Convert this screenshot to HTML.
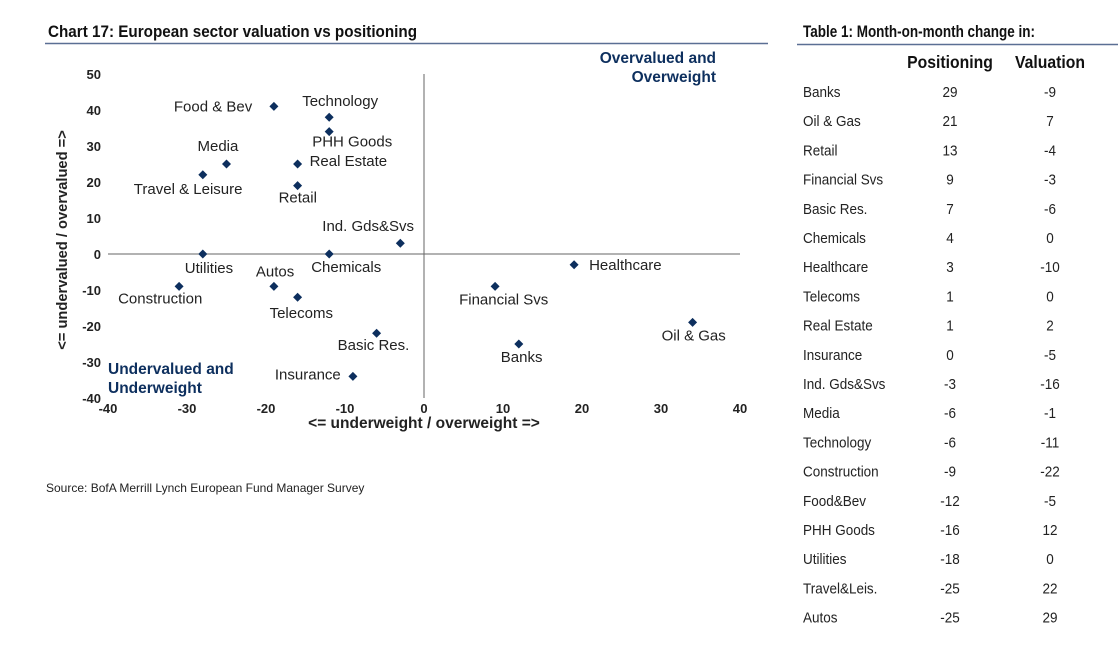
<!DOCTYPE html>
<html><head><meta charset="utf-8"><style>
body{margin:0;background:#fff;}
svg{display:block;font-family:"Liberation Sans",Arial,sans-serif;}
.n{font-family:"Liberation Sans Narrow","Liberation Sans",sans-serif;}
</style></head><body>
<svg id="c" width="1118" height="661" viewBox="0 0 1118 661">
<text class="n" x="48" y="37" font-size="17" font-weight="bold" fill="#111" textLength="369" lengthAdjust="spacingAndGlyphs">Chart 17: European sector valuation vs positioning</text>
<line x1="45" y1="43.5" x2="768" y2="43.5" stroke="#5b6f94" stroke-width="1.5"/>
<text class="n" x="803" y="37" font-size="17" font-weight="bold" fill="#111" textLength="232" lengthAdjust="spacingAndGlyphs">Table 1: Month-on-month change in:</text>
<line x1="797" y1="44.5" x2="1118" y2="44.5" stroke="#5b6f94" stroke-width="1.5"/>
<text x="716" y="63" font-size="15.5" font-weight="bold" fill="#0d2f5e" text-anchor="end">Overvalued and</text>
<text x="716" y="82" font-size="15.5" font-weight="bold" fill="#0d2f5e" text-anchor="end">Overweight</text>
<text x="108" y="374" font-size="15.5" font-weight="bold" fill="#0d2f5e">Undervalued and</text>
<text x="108" y="393" font-size="15.5" font-weight="bold" fill="#0d2f5e">Underweight</text>
<text x="424" y="428" font-size="15.5" font-weight="bold" fill="#222" text-anchor="middle">&lt;= underweight / overweight =&gt;</text>
<text transform="translate(67,240) rotate(-90)" font-size="14.7" font-weight="bold" fill="#222" text-anchor="middle">&lt;= undervalued / overvalued =&gt;</text>
<text class="n" x="46" y="492" font-size="12" fill="#222">Source: BofA Merrill Lynch European Fund Manager Survey</text>
<g id="plot"></g>
<g id="tbl" transform="scale(0.9,1)"></g>
</svg>
<script>
const sectors=["Food & Bev","Technology","PHH Goods","Media","Real Estate","Travel & Leisure","Retail","Ind. Gds&Svs","Utilities","Chemicals","Healthcare","Construction","Autos","Financial Svs","Telecoms","Oil & Gas","Basic Res.","Banks","Insurance"];
const positioning=[-19,-12,-12,-25,-16,-28,-16,-3,-28,-12,19,-31,-19,9,-16,34,-6,12,-9];
const valuation=[41,38,34,25,25,22,19,3,0,0,-3,-9,-9,-9,-12,-19,-22,-25,-34];
const xTicks=[-40,-30,-20,-10,0,10,20,30,40];
const yTicks=[-40,-30,-20,-10,0,10,20,30,40,50];
const labelOff=[[-100,5],[-27,-11],[-17,15],[-29,-13],[12,2],[-69,19],[-19,17],[-78,-12],[-18,19],[-18,18],[15,5],[-61,17],[-18,-10],[-36,18],[-28,21],[-31,18],[-39,17],[-18,18],[-78,3]];
const tRows=["Banks","Oil & Gas","Retail","Financial Svs","Basic Res.","Chemicals","Healthcare","Telecoms","Real Estate","Insurance","Ind. Gds&Svs","Media","Technology","Construction","Food&Bev","PHH Goods","Utilities","Travel&Leis.","Autos"];
const tPos=[29,21,13,9,7,4,3,1,1,0,-3,-6,-6,-9,-12,-16,-18,-25,-25];
const tVal=[-9,7,-4,-3,-6,0,-10,0,2,-5,-16,-1,-11,-22,-5,12,0,22,29];

const NS="http://www.w3.org/2000/svg";
const X=v=>424+v*7.9, Y=v=>254-v*3.6;
const S=0.9;
function mk(p,t,a){const e=document.createElementNS(NS,t);for(const k in a)e.setAttribute(k,a[k]);p.appendChild(e);return e;}
const g=document.getElementById('plot');
let e=mk(g,'line',{x1:X(-40),x2:X(40),y1:Y(0),y2:Y(0),stroke:'#666','stroke-width':1});


e=mk(g,'line',{x1:X(0),x2:X(0),y1:Y(50),y2:Y(-40),stroke:'#666','stroke-width':1});


xTicks.forEach(v=>{const t=mk(g,'text',{x:X(v),y:413,'font-size':13,'font-weight':'bold',fill:'#222','text-anchor':'middle'});t.textContent=v;

});
yTicks.forEach(v=>{const t=mk(g,'text',{x:101,y:Y(v)+5,'font-size':13,'font-weight':'bold',fill:'#222','text-anchor':'end'});t.textContent=v;

});
sectors.forEach((s,i)=>{const cx=X(positioning[i]),cy=Y(valuation[i]);
const p=mk(g,'path',{d:`M${cx} ${cy-4.5}L${cx+4.5} ${cy}L${cx} ${cy+4.5}L${cx-4.5} ${cy}Z`,fill:'#0d2f5e'});


const o=labelOff[i]||[6,4];
const t=mk(g,'text',{x:cx+o[0],y:cy+o[1],'font-size':15,fill:'#222'});t.textContent=s;

});
const tb=document.getElementById('tbl');
let h=mk(tb,'text',{x:950/S,y:68,'font-size':17.5,'font-weight':'bold',fill:'#111','text-anchor':'middle'});h.textContent='Positioning';


h=mk(tb,'text',{x:1050/S,y:68,'font-size':17.5,'font-weight':'bold',fill:'#111','text-anchor':'middle'});h.textContent='Valuation';


tRows.forEach((r,i)=>{const y=97+i*29.2;
let t=mk(tb,'text',{x:803/S,y:y,'font-size':15,fill:'#222'});t.textContent=r;


t=mk(tb,'text',{x:950/S,y:y,'font-size':15,fill:'#222','text-anchor':'middle'});t.textContent=tPos[i];


t=mk(tb,'text',{x:1050/S,y:y,'font-size':15,fill:'#222','text-anchor':'middle'});t.textContent=tVal[i];

});
</script>
</body></html>
